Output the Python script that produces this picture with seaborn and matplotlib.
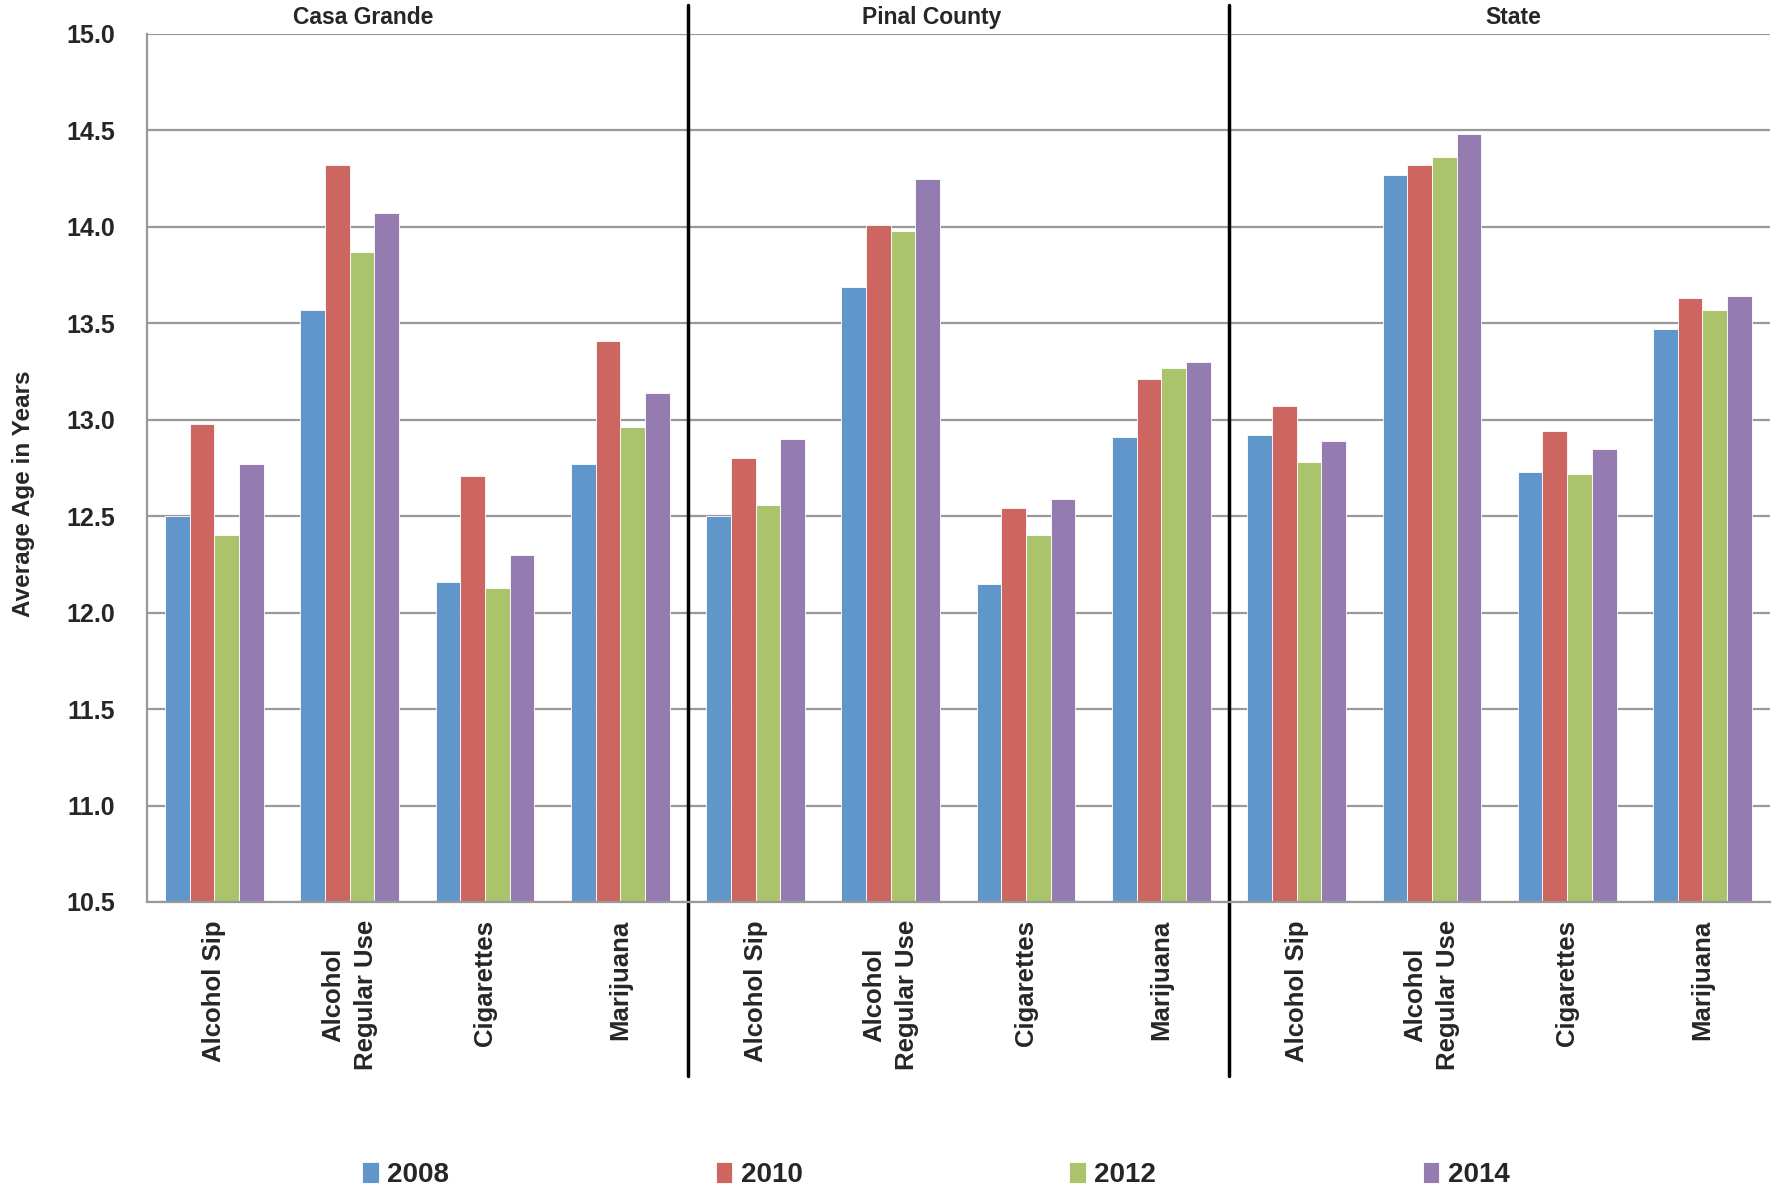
import pandas as pd
import matplotlib
matplotlib.use("Agg")
import matplotlib.pyplot as plt
import seaborn as sns

# --- Data ---
regions = ["Casa Grande", "Pinal County", "State"]
substances = ["Alcohol Sip", "Alcohol\nRegular Use", "Cigarettes", "Marijuana"]
years = ["2008", "2010", "2012", "2014"]

v2008 = [12.50, 13.57, 12.16, 12.77, 12.50, 13.69, 12.15, 12.91, 12.92, 14.27, 12.73, 13.47]
v2010 = [12.98, 14.32, 12.71, 13.41, 12.80, 14.01, 12.54, 13.21, 13.07, 14.32, 12.94, 13.63]
v2012 = [12.40, 13.87, 12.13, 12.96, 12.56, 13.98, 12.40, 13.27, 12.78, 14.36, 12.72, 13.57]
v2014 = [12.77, 14.07, 12.30, 13.14, 12.90, 14.25, 12.59, 13.30, 12.89, 14.48, 12.85, 13.64]

colors = ["#6096C9", "#CD6660", "#ABC46C", "#957CB0"]

# long-form table for seaborn
keys = [f"{r}|{s}" for r in regions for s in substances]
rows = []
for yr, vals in zip(years, [v2008, v2010, v2012, v2014]):
    for k, v in zip(keys, vals):
        rows.append({"key": k, "year": yr, "age": v})
df = pd.DataFrame(rows)

sns.set_style("white")
plt.rcParams["font.family"] = ["Liberation Sans", "DejaVu Sans"]
plt.rcParams["font.weight"] = "bold"

fig = plt.figure(figsize=(17.79, 11.92), dpi=100)
ax = fig.add_axes([0.0825, 0.2433, 0.9125, 0.7282])

sns.barplot(data=df, x="key", y="age", hue="year", order=keys, hue_order=years,
            palette=colors, width=0.73, edgecolor="white", linewidth=0.6,
            saturation=1, ax=ax)

handles, labels = ax.get_legend_handles_labels()
ax.get_legend().remove()

ax.set_ylim(10.5, 15.0)
ax.set_xlim(-0.5, len(keys) - 0.5)
ax.set_yticks([10.5 + 0.5 * i for i in range(10)])
ax.set_yticklabels([f"{10.5 + 0.5 * i:.1f}" for i in range(10)],
                   fontsize=18, fontweight="bold")
ax.yaxis.grid(True, color="#999999", linewidth=1.6)
ax.set_axisbelow(True)

ax.set_xticks(range(len(keys)))
ax.set_xticklabels(substances * len(regions), rotation=90, fontsize=18.5,
                   fontweight="bold", va="top", ha="center",
                   linespacing=1.45)
ax.set_xticks([i - 0.5 for i in range(len(keys) + 1)], minor=True)
ax.tick_params(axis="x", which="major", length=0, pad=13)
ax.tick_params(axis="x", which="minor", length=9, width=1.6, color="#999999",
               direction="out")
ax.tick_params(axis="y", length=9, width=1.6, color="#999999", direction="out",
               pad=14)

for side in ["top", "right"]:
    ax.spines[side].set_visible(False)
for side in ["left", "bottom"]:
    ax.spines[side].set_color("#999999")
    ax.spines[side].set_linewidth(1.6)

ax.set_xlabel("")
ax.set_ylabel("Average Age in Years", fontsize=17.5, fontweight="bold")
ax.yaxis.set_label_coords(-0.069, 0.47)

# region dividers
for xb in [3.5, 7.5]:
    ax.axvline(xb, ymin=-0.2, ymax=1.033, color="black", linewidth=2.5,
               clip_on=False)

# region titles
for r, xc in zip(regions, [1.1, 5.3, 9.6]):
    ax.text(xc, 15.085, r, ha="center", va="center", fontsize=16.5,
            fontweight="bold")

fig.legend(handles, labels, loc="center", bbox_to_anchor=(0.526, 0.014),
           ncol=4, frameon=False, handlelength=0.6,
           handleheight=0.8, handletextpad=0.3, columnspacing=9.6,
           prop={"weight": "bold", "size": 20})

fig.savefig("out.png", dpi=100)
